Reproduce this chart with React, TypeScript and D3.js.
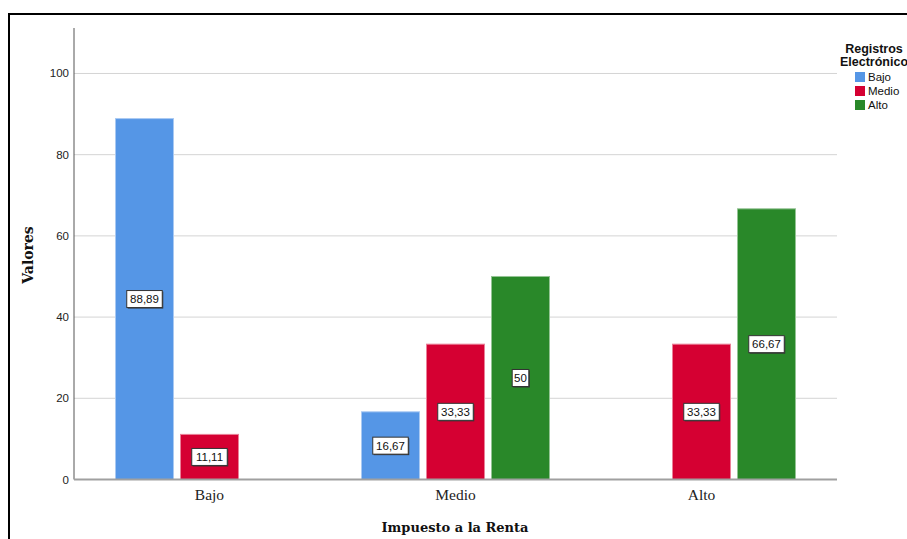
import React from "react";
import * as d3 from "d3";

const categories = ["Bajo", "Medio", "Alto"];
const seriesNames = ["Bajo", "Medio", "Alto"];
// values[category][series]; null = no bar
const bajoValues: (number | null)[] = [88.89, 11.11, null];
const medioValues: (number | null)[] = [16.67, 33.33, 50];
const altoValues: (number | null)[] = [null, 33.33, 66.67];
const yTicks = [0, 20, 40, 60, 80, 100];
const colors = ["#5596E6", "#D50032", "#298829"];
const strokes = ["#a9c9f2", "#ea8098", "#94c494"];

const W = 907;
const H = 539;
const plotLeft = 74;
const plotRight = 837;
const plotTop = 28;
const plotBottom = 479.5;

const fmt = (v: number) => {
  const s = Number.isInteger(v) ? String(v) : v.toFixed(2);
  return s.replace(".", ",");
};

export default function App() {
  const rows = [bajoValues, medioValues, altoValues];
  const y = d3.scaleLinear().domain([0, 111.2]).range([plotBottom, plotTop]);
  const x0 = d3
    .scaleBand<string>()
    .domain(categories)
    .range([plotLeft, plotRight])
    .paddingInner(0.2358)
    .paddingOuter(0.1687);
  const x1 = d3
    .scaleBand<string>()
    .domain(seriesNames)
    .range([0, x0.bandwidth()])
    .paddingInner(0.1077)
    .paddingOuter(0);

  const sans = "'Liberation Sans', Arial, sans-serif";
  const serif = "'DejaVu Serif', 'Liberation Serif', serif";
  const serifLight = "'Liberation Serif', 'Times New Roman', serif";

  return (
    <svg width={W} height={H} style={{ position: "absolute", left: 0, top: 0, background: "#fff" }}>
      <rect x={0} y={0} width={W} height={H} fill="#fff" />
      {/* outer frame */}
      <path d={`M9,${H + 5} V14 H${W + 5}`} fill="none" stroke="#000" strokeWidth={2} />

      {/* gridlines */}
      {yTicks.filter((t) => t > 0).map((t) => (
        <line key={t} x1={plotLeft} x2={plotRight} y1={y(t)} y2={y(t)} stroke="#d4d4d4" strokeWidth={1} />
      ))}

      {/* bars */}
      {rows.map((vals, ci) =>
        vals.map((v, si) =>
          v == null ? null : (
            <rect
              key={`${ci}-${si}`}
              x={(x0(categories[ci]) ?? 0) + (x1(seriesNames[si]) ?? 0)}
              y={y(v)}
              width={x1.bandwidth()}
              height={plotBottom - y(v)}
              fill={colors[si]}
              stroke={strokes[si]}
              strokeWidth={1}
            />
          )
        )
      )}

      {/* axes */}
      <line x1={plotLeft} x2={plotLeft} y1={plotTop} y2={plotBottom} stroke="#555" strokeWidth={1} />
      <line x1={plotLeft} x2={plotRight} y1={plotBottom} y2={plotBottom} stroke="#a0a0a0" strokeWidth={2} />
      {yTicks.map((t) => (
        <text key={t} x={69} y={y(t)} dy="0.35em" textAnchor="end" fontFamily={sans} fontSize={11.5} fill="#222">
          {t}
        </text>
      ))}
      {categories.map((c) => (
        <text
          key={c}
          x={(x0(c) ?? 0) + x0.bandwidth() / 2}
          y={500}
          textAnchor="middle"
          fontFamily={serifLight}
          fontSize={15.5}
          fill="#222"
        >
          {c}
        </text>
      ))}
      <text x={455} y={532} textAnchor="middle" fontFamily={serif} fontSize={13} fontWeight="bold" fill="#111">
        Impuesto a la Renta
      </text>
      <text
        transform={`translate(33,255) rotate(-90)`}
        textAnchor="middle"
        fontFamily={serif}
        fontSize={14}
        fontWeight="bold"
        fill="#111"
      >
        Valores
      </text>

      {/* value labels */}
      {rows.map((vals, ci) =>
        vals.map((v, si) => {
          if (v == null) return null;
          const cx = (x0(categories[ci]) ?? 0) + (x1(seriesNames[si]) ?? 0) + x1.bandwidth() / 2;
          const cy = (y(v) + plotBottom) / 2;
          const label = fmt(v);
          const bw = label.length * 6.3 + 4;
          const bh = 17;
          return (
            <g key={`l${ci}-${si}`}>
              <rect x={cx - bw / 2 + 1} y={cy - bh / 2 + 1} width={bw} height={bh} fill="#333" />
              <rect x={cx - bw / 2} y={cy - bh / 2} width={bw} height={bh} fill="#fff" stroke="#333" strokeWidth={1} />
              <text x={cx} y={cy} dy="0.36em" textAnchor="middle" fontFamily={sans} fontSize={11.5} fill="#111">
                {label}
              </text>
            </g>
          );
        })
      )}

      {/* legend */}
      <text x={874} y={53} textAnchor="middle" fontFamily={sans} fontSize={12.5} fontWeight="bold" fill="#111">
        Registros
      </text>
      <text x={874} y={66} textAnchor="middle" fontFamily={sans} fontSize={12.5} fontWeight="bold" fill="#111">
        Electrónico
      </text>
      {seriesNames.map((s, i) => (
        <g key={s} transform={`translate(855,${72 + i * 14})`}>
          <rect x={0} y={0} width={10} height={10} fill={colors[i]} />
          <text x={13} y={5} dy="0.36em" fontFamily={sans} fontSize={11.5} fill="#111">
            {s}
          </text>
        </g>
      ))}
    </svg>
  );
}
